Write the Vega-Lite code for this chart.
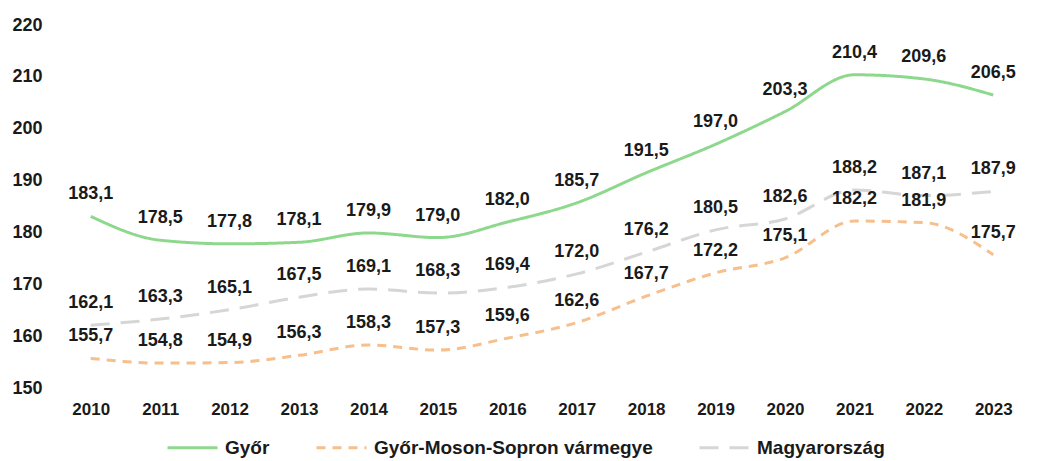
{
  "$schema": "https://vega.github.io/schema/vega-lite/v6.json",
  "width": 972,
  "height": 363,
  "autosize": {"type": "none"},
  "padding": {"left": 56, "top": 25, "right": 18, "bottom": 73},
  "background": "white",
  "config": {
    "locale": {"number": {"decimal": ",", "thousands": " ", "grouping": [3], "currency": ["", " Ft"]}},
    "font": "Liberation Sans",
    "view": {"stroke": null}
  },
  "data": {
    "values": [
      {"year": "2010", "series": "Győr", "value": 183.1},
      {"year": "2011", "series": "Győr", "value": 178.5},
      {"year": "2012", "series": "Győr", "value": 177.8},
      {"year": "2013", "series": "Győr", "value": 178.1},
      {"year": "2014", "series": "Győr", "value": 179.9},
      {"year": "2015", "series": "Győr", "value": 179.0},
      {"year": "2016", "series": "Győr", "value": 182.0},
      {"year": "2017", "series": "Győr", "value": 185.7},
      {"year": "2018", "series": "Győr", "value": 191.5},
      {"year": "2019", "series": "Győr", "value": 197.0},
      {"year": "2020", "series": "Győr", "value": 203.3},
      {"year": "2021", "series": "Győr", "value": 210.4},
      {"year": "2022", "series": "Győr", "value": 209.6},
      {"year": "2023", "series": "Győr", "value": 206.5},
      {"year": "2010", "series": "Győr-Moson-Sopron vármegye", "value": 155.7},
      {"year": "2011", "series": "Győr-Moson-Sopron vármegye", "value": 154.8},
      {"year": "2012", "series": "Győr-Moson-Sopron vármegye", "value": 154.9},
      {"year": "2013", "series": "Győr-Moson-Sopron vármegye", "value": 156.3},
      {"year": "2014", "series": "Győr-Moson-Sopron vármegye", "value": 158.3},
      {"year": "2015", "series": "Győr-Moson-Sopron vármegye", "value": 157.3},
      {"year": "2016", "series": "Győr-Moson-Sopron vármegye", "value": 159.6},
      {"year": "2017", "series": "Győr-Moson-Sopron vármegye", "value": 162.6},
      {"year": "2018", "series": "Győr-Moson-Sopron vármegye", "value": 167.7},
      {"year": "2019", "series": "Győr-Moson-Sopron vármegye", "value": 172.2},
      {"year": "2020", "series": "Győr-Moson-Sopron vármegye", "value": 175.1},
      {"year": "2021", "series": "Győr-Moson-Sopron vármegye", "value": 182.2},
      {"year": "2022", "series": "Győr-Moson-Sopron vármegye", "value": 181.9},
      {"year": "2023", "series": "Győr-Moson-Sopron vármegye", "value": 175.7},
      {"year": "2010", "series": "Magyarország", "value": 162.1},
      {"year": "2011", "series": "Magyarország", "value": 163.3},
      {"year": "2012", "series": "Magyarország", "value": 165.1},
      {"year": "2013", "series": "Magyarország", "value": 167.5},
      {"year": "2014", "series": "Magyarország", "value": 169.1},
      {"year": "2015", "series": "Magyarország", "value": 168.3},
      {"year": "2016", "series": "Magyarország", "value": 169.4},
      {"year": "2017", "series": "Magyarország", "value": 172.0},
      {"year": "2018", "series": "Magyarország", "value": 176.2},
      {"year": "2019", "series": "Magyarország", "value": 180.5},
      {"year": "2020", "series": "Magyarország", "value": 182.6},
      {"year": "2021", "series": "Magyarország", "value": 188.2},
      {"year": "2022", "series": "Magyarország", "value": 187.1},
      {"year": "2023", "series": "Magyarország", "value": 187.9}
    ]
  },
  "encoding": {
    "x": {
      "field": "year", "type": "ordinal",
      "scale": {"type": "point", "padding": 0.5},
      "axis": {"title": null, "labelAngle": 0, "domain": false, "ticks": false, "grid": false,
               "labelPadding": 13, "labelFontSize": 17, "labelFontWeight": "bold", "labelColor": "#1a1a1a"}
    },
    "y": {
      "field": "value", "type": "quantitative",
      "scale": {"domain": [150, 220], "nice": false, "zero": false},
      "axis": {"title": null, "values": [150, 160, 170, 180, 190, 200, 210, 220], "domain": false, "ticks": false, "grid": false,
               "labelPadding": 14, "labelFontSize": 18, "labelFontWeight": "bold", "labelColor": "#1a1a1a"}
    }
  },
  "layer": [
    {
      "mark": {"type": "line", "interpolate": "monotone", "strokeWidth": 3},
      "encoding": {
        "color": {
          "field": "series", "type": "nominal",
          "scale": {"domain": ["Győr", "Győr-Moson-Sopron vármegye", "Magyarország"], "range": ["#8ed88e", "#f6bf8c", "#d6d6d6"]},
          "legend": {
            "title": null, "orient": "none", "direction": "horizontal", "legendX": 110, "legendY": 396,
            "symbolType": "stroke", "symbolSize": 2500, "symbolStrokeWidth": 3,
            "labelFontSize": 19, "labelFontWeight": "bold", "labelColor": "#1a1a1a", "labelOffset": 6,
            "columnPadding": 40, "labelLimit": 400
          }
        },
        "strokeDash": {
          "field": "series", "type": "nominal",
          "scale": {"domain": ["Győr", "Győr-Moson-Sopron vármegye", "Magyarország"], "range": [[1, 0], [9, 7], [19, 11]]},
          "legend": {
            "title": null, "orient": "none", "direction": "horizontal", "legendX": 110, "legendY": 396,
            "symbolType": "stroke", "symbolSize": 2500, "symbolStrokeWidth": 3,
            "labelFontSize": 19, "labelFontWeight": "bold", "labelColor": "#1a1a1a", "labelOffset": 6,
            "columnPadding": 40, "labelLimit": 400
          }
        }
      }
    },
    {
      "mark": {"type": "text", "dy": -22, "fontSize": 18, "fontWeight": "bold", "color": "#1a1a1a"},
      "encoding": {
        "text": {"field": "value", "type": "quantitative", "format": ".1f"}
      }
    }
  ]
}
